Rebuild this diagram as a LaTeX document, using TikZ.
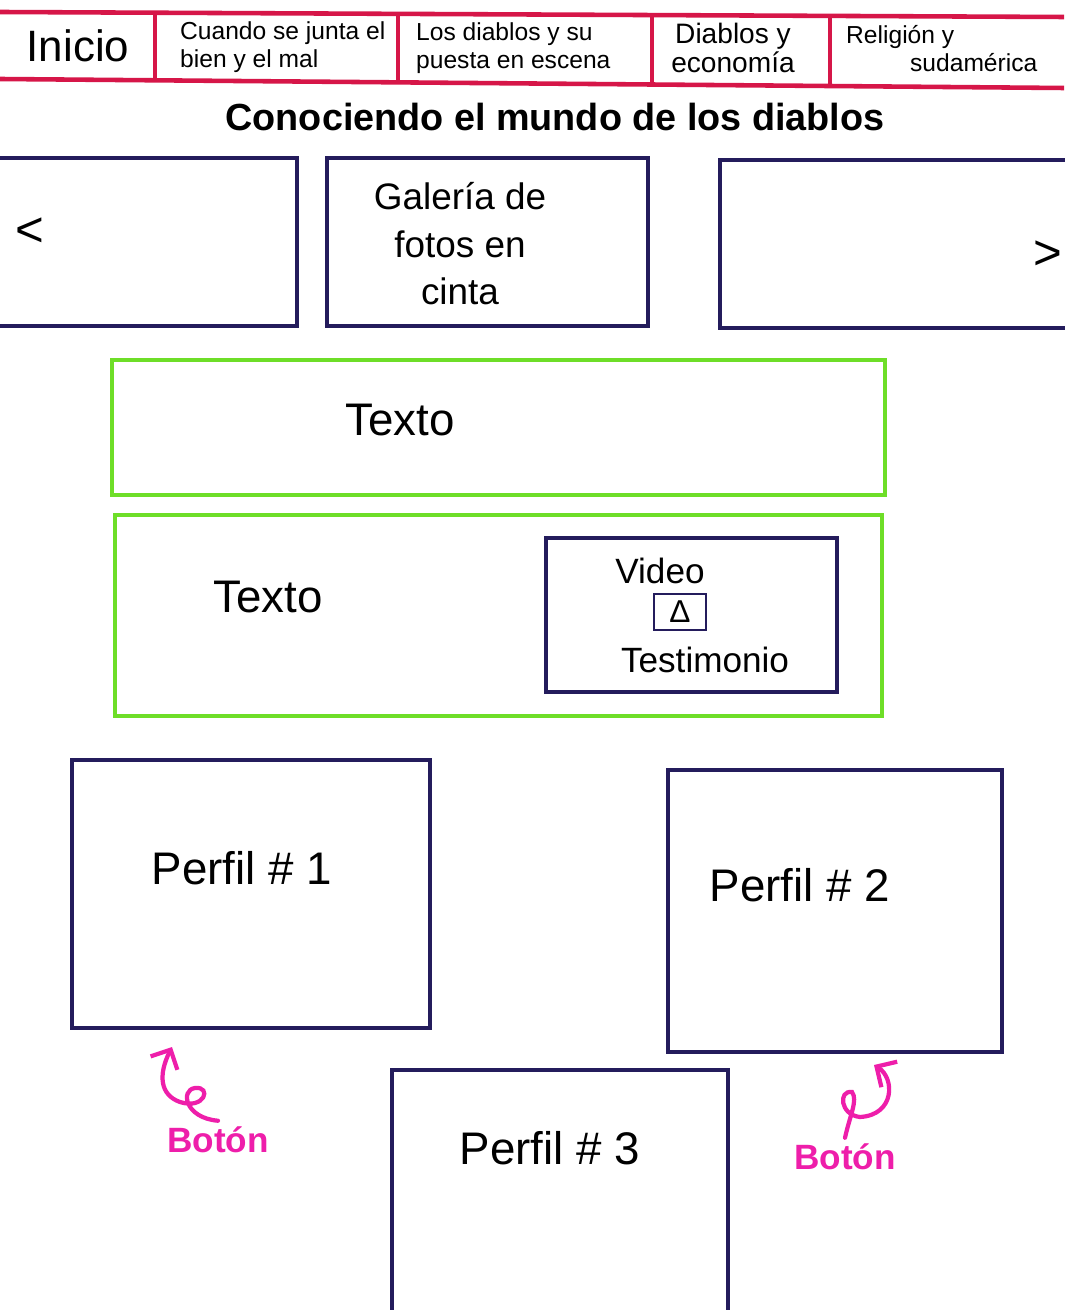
\documentclass[tikz,border=0pt]{standalone}
\usepackage{fontspec}
\setmainfont{Liberation Sans}
\usetikzlibrary{fit,positioning,arrows.meta}
\definecolor{navred}{RGB}{214,22,72}
\definecolor{ink}{RGB}{36,28,92}
\definecolor{marker}{RGB}{110,222,40}
\definecolor{pinkink}{RGB}{238,30,170}

\begin{document}
\begin{tikzpicture}[x=0.02cm,y=-0.02cm,
    inkbox/.style={draw=ink,line width=2.2pt,inner sep=0pt},
    greenbox/.style={draw=marker,line width=2pt,inner sep=0pt},
    navline/.style={draw=navred,line width=2.6pt},
    navtext/.style={align=left,font=\fontsize{14}{16}\selectfont},
    bigtext/.style={font=\fontsize{26}{30}\selectfont},
    midtext/.style={font=\fontsize{20}{24}\selectfont},
    pinktext/.style={text=pinkink,font=\bfseries\fontsize{20}{24}\selectfont},
    pinkarrow/.style={draw=pinkink,line width=2.4pt,line cap=round,-{Straight Barb[length=3mm]}}]
    \useasboundingbox[fill=white] (0,0) rectangle (1064,1310);
    % menu
    \draw[navline] (0,12) -- (1064,17);
    \draw[navline] (0,79) -- (1064,88);
    \draw[navline] (155,13) -- (155,80);
    \draw[navline] (398,14) -- (398,82);
    \draw[navline] (652,15) -- (652,84);
    \draw[navline] (830,16) -- (830,86);
    \node[font=\fontsize{25}{28}\selectfont] (inicio) at (78,46) {Inicio};
    \node[navtext,anchor=west] (menu2) at (174,47) {Cuando se junta el\\bien y el mal};
    \node[navtext,anchor=west] (menu3) at (410,48) {Los diablos y su\\puesta en escena};
    \node[navtext,align=center,font=\fontsize{16}{17}\selectfont] (menu4) at (733,48) {Diablos y\\economía};
    \node[navtext,anchor=west] (menu5) at (840,49) {Religión y\\\hspace*{2.6em}sudamérica};
    \node[font=\bfseries\fontsize{21.5}{24}\selectfont] (title) at (555,117) {Conociendo el mundo de los diablos};
    % carrusel
    \node[inkbox,fit={(-20,158) (297,326)}] (prev) {};
    \node[inkbox,fit={(327,158) (648,326)}] (gallery) {};
    \node[align=center,font=\fontsize{21}{27}\selectfont] (gallerytext) at (460,244) {Galería de\\fotos en\\cinta};
    \node[inkbox,fit={(720,160) (1090,328)}] (next) {};
    \node[font=\fontsize{28}{30}\selectfont] (larrow) at (30,232) {<};
    \node[font=\fontsize{28}{30}\selectfont] (rarrow) at (1048,255) {>};
    % textos
    \node[greenbox,fit={(112,360) (885,495)}] (text1box) {};
    \node[bigtext] (text1) at (400,420) {Texto};
    \node[greenbox,fit={(115,515) (882,716)}] (text2box) {};
    \node[bigtext] (text2) at (268,597) {Texto};
    \node[inkbox,fit={(546,538) (837,692)}] (video) {};
    \node[midtext] (vlabel) at (660,571) {Video};
    \node[draw=ink,line width=1pt,minimum width=1.04cm,minimum height=0.72cm,font=\fontsize{18}{18}\selectfont] (play) at (680,612) {Δ};
    \node[midtext] (tlabel) at (705,660) {Testimonio};
    % perfiles
    \node[inkbox,fit={(72,760) (430,1028)}] (perfil1) {};
    \node[bigtext] (p1text) at (242,868) {Perfil \# 1};
    \node[inkbox,fit={(668,770) (1002,1052)}] (perfil2) {};
    \node[bigtext] (p2text) at (800,885) {Perfil \# 2};
    \node[inkbox,fit={(392,1070) (728,1330)}] (perfil3) {};
    \node[bigtext] (p3text) at (550,1148) {Perfil \# 3};
    % botones
    \node[pinktext] (boton1) at (218,1140) {Botón};
    \node[pinktext] (boton2) at (845,1157) {Botón};
    \coordinate (tip1) at (172,1047);
    \coordinate (tip2) at (874,1065);
    \draw[pinkarrow] (boton1.north) .. controls (185,1118) and (180,1090) .. (195,1088)
        .. controls (212,1086) and (205,1110) .. (180,1102)
        .. controls (160,1095) and (158,1075) .. (tip1);
    \draw[pinkarrow] (boton2.north) .. controls (850,1115) and (858,1100) .. (852,1092)
        .. controls (838,1090) and (840,1115) .. (860,1117)
        .. controls (895,1115) and (895,1078) .. (tip2);
\end{tikzpicture}
\end{document}
